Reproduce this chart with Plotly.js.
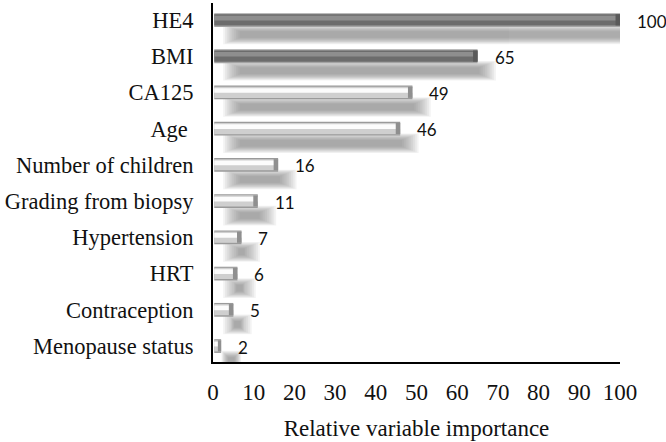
<!DOCTYPE html>
<html>
<head>
<meta charset="utf-8">
<script src="https://cdn.plot.ly/plotly-3.0.1.min.js"></script>
<style>html,body{margin:0;padding:0;background:#fff}#chart{width:666px;height:442px}</style>
</head>
<body>
<div id="chart"></div>
<script>
// Data (top to bottom)
const categories = ["HE4", "BMI", "CA125", "Age ", "Number of children", "Grading from biopsy",
  "Hypertension", "HRT", "Contraception", "Menopause status"];
const importance = [100, 65, 49, 46, 16, 11, 7, 6, 5, 2];
const xTickValues = [0, 10, 20, 30, 40, 50, 60, 70, 80, 90, 100];

// Styling helpers
const isDark = importance.map((v, i) => i < 2);
const edgeColor = isDark.map(d => d ? "#a4a4a4" : "#9a9a9a");
const bodyColor = isDark.map(d => d ? "#6c6c6c" : "#cfcfcf");
const hiColor = isDark.map(d => d ? "#8e8e8e" : "#fcfcfc");
const capColor = isDark.map(d => d ? "#5a5a5a" : "#8f8f8f");

const serif = "'Liberation Serif', 'Times New Roman', serif";

function barLayer(x, base, width, offset, color, opacity) {
  return {
    type: "bar", orientation: "h", y: categories, x: x, base: base,
    width: width, offset: offset,
    marker: {color: color, line: {width: 0}}, opacity: opacity === undefined ? 1 : opacity,
    hoverinfo: "skip", showlegend: false
  };
}

// soft shadow: many stacked translucent layers, shrinking toward the centre
const traces = [];
const shadowCenterOffset = 0.40;
const nLayers = 10;
for (let k = 0; k < nLayers; k++) {
  const thick = 0.54 - k * 0.04;
  const starts = [], lens = [];
  importance.forEach(v => {
    const s0 = 2.5, e0 = v + 4.5;
    const mid = (s0 + e0) / 2;
    const half = Math.max((e0 - s0) / 2 - k * 0.45, 2.4 - k * 0.18);
    starts.push(mid - half);
    lens.push(2 * half);
  });
  traces.push(barLayer(lens, starts, thick, shadowCenterOffset - thick / 2, "#6a6a6a", 0.075));
}

const zeroBase = importance.map(() => 0.3);
const barLen = importance.map(v => v - 0.3);
const capLen = importance.map(v => Math.min(1.1, v * 0.4));
const capBase = importance.map((v, i) => v - capLen[i]);

traces.push(barLayer(barLen, zeroBase, 0.38, -0.19, edgeColor));
traces.push(barLayer(barLen, zeroBase, 0.31, -0.16, bodyColor));
traces.push(barLayer(barLen, zeroBase, 0.13, -0.12, hiColor));
traces.push(barLayer(capLen, capBase, 0.31, -0.16, capColor));

const annotations = categories.map((c, i) => ({
  x: importance[i], y: c, xref: "x", yref: "y",
  text: String(importance[i]), showarrow: false,
  xanchor: "left", yanchor: "middle", xshift: 15, yshift: -1,
  font: {family: "Lato, 'Open Sans', sans-serif", size: 17, color: "#111"}
}));

const layout = {
  width: 666, height: 442,
  margin: {l: 213, r: 46, t: 3, b: 80},
  paper_bgcolor: "#fff", plot_bgcolor: "#fff",
  barmode: "overlay",
  showlegend: false,
  xaxis: {
    range: [0, 100], tickvals: xTickValues, ticktext: xTickValues.map(String),
    showgrid: false, zeroline: false, showline: true, linecolor: "#000", linewidth: 2,
    ticks: "", ticklabelstandoff: 8,
    tickfont: {family: serif, size: 23, color: "#111"},
    title: {text: "Relative variable importance", font: {family: serif, size: 23, color: "#111"}, standoff: 16},
    fixedrange: true
  },
  yaxis: {
    type: "category", categoryorder: "array", categoryarray: categories,
    range: [9.44, -0.47],
    showgrid: false, zeroline: false, showline: true, linecolor: "#000", linewidth: 2,
    ticks: "", ticklabelstandoff: 13,
    tickfont: {family: serif, size: 22.5, color: "#111"},
    fixedrange: true
  },
  annotations: annotations
};

Plotly.newPlot("chart", traces, layout, {staticPlot: true, displayModeBar: false});
</script>
</body>
</html>
